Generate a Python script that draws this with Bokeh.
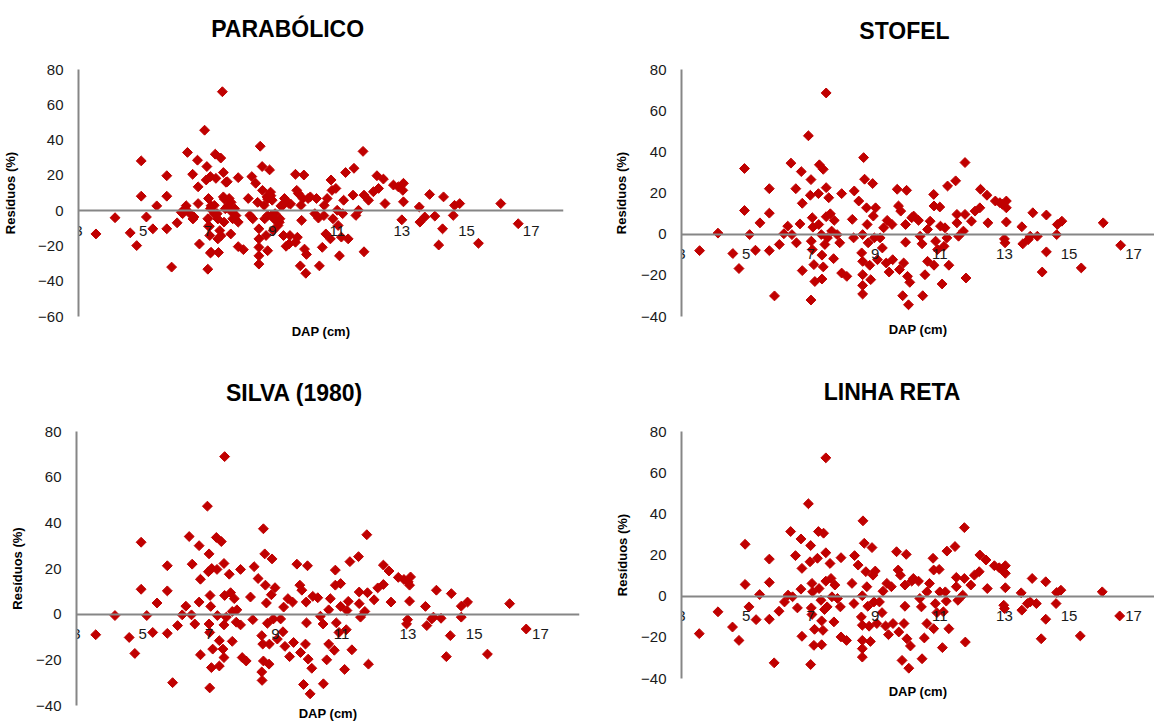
import math
from bokeh.plotting import figure
from bokeh.layouts import row, column
from bokeh.models import Range1d, FixedTicker, LinearAxis
from bokeh.core.properties import value
from bokeh.embed import file_html
from bokeh.resources import INLINE

# ---------------- data (DAP cm, residual %) ----------------
titles = ["PARABÓLICO", "STOFEL", "SILVA (1980)", "LINHA RETA"]
x_ticks = [3, 5, 7, 9, 11, 13, 15, 17]
y_ticks_p1 = [-60, -40, -20, 0, 20, 40, 60, 80]
y_ticks_other = [-40, -20, 0, 20, 40, 60, 80]

parabolico_pts = [
    (3.54, -13.2), (4.13, -4), (4.6, -12.6), (4.8, -19.8), (4.94, 28.2), (4.94, 8.2), (5.1, -3.6),
    (5.3, -10.3), (5.42, 2.7), (5.73, 19.8), (5.73, 8.2), (5.73, -10.3), (5.88, -32), (6.05, -6.9),
    (6.22, -1.7), (6.3, 1.1), (6.37, 33), (6.45, -1.7), (6.53, 20.6), (6.57, -3.6), (6.68, 28.6),
    (6.7, 13.5), (6.7, 4), (6.74, -18.9), (6.9, 45.6), (6.97, 25), (6.95, 17.4), (7.02, 6.9),
    (7.0, -4.6), (7.02, -8.8), (7.0, -33.2), (7.06, -14.1), (7.08, 19.3), (7.08, 1.1), (7.08, -24),
    (7.2, 3), (7.23, 32), (7.25, 18.3), (7.29, -1.7), (7.31, -16), (7.33, -23.7), (7.37, -11.3),
    (7.4, 29.8), (7.45, 67.4), (7.48, 21.6), (7.48, 7.8), (7.5, -6.5), (7.54, 1.1), (7.6, 16.4),
    (7.66, 6.9), (7.71, -13.2), (7.74, -0.8), (7.77, -4.6), (7.83, 1.1), (7.94, 18.7), (7.94, -6.5),
    (7.94, -20.4), (8.1, -22.1), (8.25, 6.9), (8.3, -2.7), (8.36, 19.3), (8.39, -4.6), (8.48, 15.5),
    (8.58, -10.3), (8.58, -16), (8.58, -20.8), (8.58, -25.6), (8.58, -30.3), (8.62, 36.5), (8.68, 25),
    (8.69, 11.5), (8.74, 3), (8.76, -4.6), (8.8, -14.1), (8.83, 7.8), (8.85, -22.7), (8.91, 23.1),
    (8.94, 10.5), (8.97, -2.7), (8.99, 5.9), (9.02, -11.3), (9.08, -1.7), (9.17, -8.4), (9.23, -4.6),
    (9.26, 2.7), (9.34, -14.1), (9.37, 6.9), (9.42, -20.2), (9.51, 4), (9.54, -14.1), (9.71, 20.6),
    (9.71, -17.9), (9.75, 11.5), (9.8, 9.7), (9.86, -31.3), (9.88, 3), (9.9, -5.5), (9.94, 6.9),
    (9.97, 20.2), (9.99, -21.8), (10.03, -35.5), (10.05, -24.8), (10.1, 6.9), (10.17, 7.8),
    (10.31, -1.7), (10.36, 6.9), (10.42, -4.2), (10.45, -31.3), (10.54, -20.8), (10.6, 3),
    (10.65, -13.2), (10.69, 6.9), (10.79, -16), (10.81, 17.4), (10.84, 11.5), (10.87, -4.6),
    (10.96, 12.6), (11.0, 0.2), (11.03, -8.4), (11.07, -25.6), (11.13, -15), (11.17, -1.7),
    (11.2, 5.9), (11.26, 21.6), (11.34, -16), (11.49, 8.8), (11.52, 24), (11.58, -2.7), (11.66, 0.2),
    (11.8, 33.6), (11.83, -23.3), (11.83, 8.8), (11.97, 5.9), (12.12, 10.7), (12.23, 19.8),
    (12.28, 12.6), (12.43, 17.9), (12.48, 4), (12.74, 14.5), (12.89, 13.5), (13.0, -5.2),
    (13.03, 11.5), (13.05, 15.5), (13.05, 5), (13.54, 2.1), (13.56, -6.5), (13.71, -3.6),
    (13.86, 9.2), (14.02, -3.1), (14.14, -19.5), (14.26, -10.3), (14.29, 7.8), (14.59, -2.7),
    (14.63, 3), (14.79, 4), (15.37, -18.5), (16.06, 4), (16.6, -7.4),
    (6.18, -0.9), (6.33, 2.8), (6.54, -4.7), (7.1, 2.8), (7.2, -1.9), (7.31, -4.7), (7.05, -8.9),
    (7.41, -14.2), (7.1, -23.6), (7.51, 6.6), (7.62, 2.8), (7.72, 4.7), (7.87, -2.8), (7.56, 16.1),
    (8.54, 4.7), (8.85, 6.6), (8.95, 8.5), (8.85, -2.8), (9.05, -4.7), (9.21, -6.6), (9.31, 2.8),
    (9.56, 3.8), (9.51, -18.9), (9.77, -15.1), (10.59, -2.8),
]

stofel_pts = [
    (3.56, -8), (4.13, 0.5), (4.59, -9.4), (4.78, -16.7), (4.95, 31.9), (4.95, 11.5), (5.11, -0.2),
    (5.29, -7.8), (5.43, 5.5), (5.72, 22.1), (5.72, 10.2), (5.72, -8), (5.88, -30), (6.03, -5),
    (6.17, 0.2), (6.29, 3.9), (6.39, 34.5), (6.42, -0.2), (6.54, 22.1), (6.56, -4.2), (6.67, 5),
    (6.71, 30.4), (6.74, 15), (6.74, -17.7), (6.93, 47.8), (7.01, 26.5), (6.99, 18.9), (7.05, 8),
    (7.02, -3.4), (7.05, -7.5), (7.01, -32), (7.07, 3.4), (7.1, -14.8), (7.13, -23), (7.24, 19.7),
    (7.25, 4.7), (7.27, 33.7), (7.33, -0.2), (7.35, -10.2), (7.35, -21.8), (7.39, 31.5), (7.39, -15.9),
    (7.44, -5), (7.48, 68.6), (7.48, 22.6), (7.48, 8.5), (7.52, -1.8), (7.56, 17.7), (7.61, 9.9),
    (7.65, 1.5), (7.71, -11.9), (7.73, 6.7), (7.82, -0.2), (7.9, -4.2), (7.96, 19.7), (7.96, -18.9),
    (8.12, -20.5), (8.29, 7.2), (8.33, -1.8), (8.35, 21), (8.49, 16.1), (8.58, -9.1), (8.61, -0.2),
    (8.61, -13.2), (8.61, -19.7), (8.61, -24.9), (8.61, -29.1), (8.64, 37.2), (8.67, 26.7),
    (8.73, 12.8), (8.75, 4.7), (8.78, -4.2), (8.83, -15.1), (8.86, -22.1), (8.92, 24.6), (8.94, 8.8),
    (8.97, -1.8), (9.01, 12.8), (9.07, -12.4), (9.15, -1.8), (9.22, -6.7), (9.26, 3.1), (9.34, -14),
    (9.37, 6.7), (9.43, -18.4), (9.52, 4.7), (9.54, -12.4), (9.68, 21.8), (9.72, 13.7), (9.75, -17.2),
    (9.79, 11.2), (9.85, -29.9), (9.88, -14), (9.94, 4.7), (9.94, -3.9), (9.97, 21.3), (10.0, -20.5),
    (10.03, -34.3), (10.07, -23.4), (10.13, 8), (10.19, 8.8), (10.34, 6.7), (10.39, -1), (10.45, -4.7),
    (10.47, -29.9), (10.54, -19.7), (10.62, 2.3), (10.62, -13.2), (10.7, 6.3), (10.81, 19.3),
    (10.82, 13.7), (10.82, -15.1), (10.87, -3.4), (10.93, -7.5), (11.0, 13.2), (11.02, 3.9),
    (11.07, -24.2), (11.13, -5.9), (11.16, 3.1), (11.22, -1.8), (11.24, 23.4), (11.28, -15.1),
    (11.49, 25.9), (11.53, 5.5), (11.53, 9.6), (11.58, -1), (11.73, 1.5), (11.78, 34.8), (11.78, 9.6),
    (11.81, -21.3), (11.98, 6.3), (12.09, 11.2), (12.24, 12.8), (12.26, 21.8), (12.46, 18.9),
    (12.49, 5.5), (12.72, 16.1), (12.86, 15.3), (12.94, 14.5), (13.0, -2.3), (13.02, -4.2),
    (13.06, 16.1), (13.06, 12.8), (13.06, 5.9), (13.54, 3.6), (13.57, -4.7), (13.74, -2.6),
    (13.8, -1), (13.88, 10.4), (14.02, -1), (14.17, -18.4), (14.3, 9.3), (14.3, -8.6), (14.62, -0.2),
    (14.64, 4.7), (14.78, 6.3), (15.38, -16.4), (16.06, 5.5), (16.6, -5.4),
]

silva_pts = [
    (3.58, -9), (4.16, -0.6), (4.59, -10.2), (4.76, -17.2), (4.95, 31.5), (4.95, 10.9), (5.12, -0.6),
    (5.3, -8), (5.43, 4.9), (5.74, 21.2), (5.74, 10.2), (5.74, -8.4), (5.9, -30), (6.05, -5),
    (6.19, -0.3), (6.3, 3.5), (6.4, 34), (6.47, -0.3), (6.49, 21.9), (6.57, -4.3), (6.7, 5.3),
    (6.7, 30), (6.74, 15.3), (6.74, -17.8), (6.95, 47.3), (7.0, 26.4), (6.98, 18.6), (7.03, 8.2),
    (7.0, -4.3), (7.02, -8), (7.02, -32.3), (7.05, 3.4), (7.11, -15.3), (7.07, -23.4), (7.08, 20),
    (7.22, 33.6), (7.24, 19.6), (7.25, -0.6), (7.31, -11.6), (7.31, -22.7), (7.37, 31.8),
    (7.42, -15.3), (7.45, -19), (7.45, -4.7), (7.47, 69), (7.45, 22.2), (7.47, 8.2), (7.52, -1.3),
    (7.61, 17.5), (7.65, 9.4), (7.7, 1.2), (7.7, -11.9), (7.76, 6.8), (7.82, -3.5), (7.84, 1.9),
    (7.95, -4.7), (7.95, 19.6), (8.0, -19), (8.12, -20.5), (8.25, 7.5), (8.32, -2.4), (8.36, 20.8),
    (8.48, 15.6), (8.59, -9.4), (8.59, -25.3), (8.6, -29), (8.62, -13.1), (8.64, 37.4), (8.68, 26.4),
    (8.64, -20.5), (8.7, 12.7), (8.73, 4.9), (8.76, -4), (8.81, -21.9), (8.82, -13.1), (8.9, 24.2),
    (8.88, 8.5), (8.94, -2.1), (8.99, 11.6), (9.06, -10.9), (9.16, -2.1), (9.23, -7.7), (9.25, 3.1),
    (9.29, -14.1), (9.38, 6.8), (9.43, -18.6), (9.52, 5.3), (9.55, -12.4), (9.65, 21.9), (9.74, 12.7),
    (9.76, -16.8), (9.8, 10.5), (9.85, -30.8), (9.91, -13.1), (9.93, 5.3), (9.94, -3.8), (9.97, 21.2),
    (9.99, -19.7), (10.05, -34.9), (10.1, -23.7), (10.13, 7.8), (10.28, 7.2), (10.36, -0.9),
    (10.44, -4.3), (10.45, -30.5), (10.55, -20), (10.61, 1.9), (10.61, -13.1), (10.66, 6.8),
    (10.81, 19.3), (10.81, 12.7), (10.78, -15.8), (10.84, -3.8), (10.92, -8), (10.97, 13.4),
    (10.97, 3.4), (11.09, -24.2), (11.14, -6.8), (11.16, 1.6), (11.2, 5.6), (11.25, 23),
    (11.31, -15.6), (11.51, 25.2), (11.53, 4.6), (11.53, 9.7), (11.57, -1.3), (11.7, 1.2),
    (11.76, 34.8), (11.78, 9.4), (11.81, -21.9), (11.98, 6.3), (12.09, 11.5), (12.26, 13),
    (12.26, 21.5), (12.43, 18.9), (12.49, 5.3), (12.71, 16.1), (12.88, 15.2), (12.96, -4.3),
    (12.99, -2.4), (13.01, 14.1), (13.05, 12.7), (13.08, 16.3), (13.05, 5.7), (13.53, 3.4),
    (13.57, -5), (13.72, -2.1), (13.77, -1.3), (13.86, 10.5), (14.0, -1.8), (14.16, -18.6),
    (14.31, 9), (14.28, -9.4), (14.61, -1.3), (14.61, 3.5), (14.8, 5.3), (15.4, -17.5),
    (16.07, 4.6), (16.57, -6.5),
]

linha_reta_pts = [
    (3.55, -18.2), (4.13, -7.6), (4.58, -15), (4.78, -21.5), (4.97, 25.2), (4.97, 5.7), (5.09, -5.2),
    (5.31, -11.4), (5.42, 0.8), (5.72, 18), (5.72, 6.7), (5.72, -11.2), (5.87, -32.4), (6.02, -7.3),
    (6.19, -2.8), (6.3, 0.5), (6.38, 31.4), (6.44, -0.3), (6.53, 19.7), (6.59, -5.7), (6.7, 27.8),
    (6.7, 3.4), (6.73, 13.5), (6.73, -19.5), (6.93, 44.9), (7.0, 24.6), (6.98, 16.7), (7.04, 6.2),
    (7.02, -5.7), (7.04, -8.9), (7.0, -33.2), (7.06, 2.1), (7.12, -16.1), (7.1, -23.9), (7.21, 18.4),
    (7.24, 31.4), (7.26, 3.7), (7.32, -2), (7.34, -12), (7.34, -23.6), (7.4, 30.6), (7.38, -16.6),
    (7.43, -6.5), (7.47, 67.2), (7.47, 21.1), (7.47, 7.3), (7.51, -5.2), (7.6, 15.9), (7.63, 8.6),
    (7.66, -0.3), (7.72, -12.5), (7.75, 5.4), (7.83, -1.1), (7.92, -5.2), (7.94, 18.7), (7.94, -19.8),
    (8.11, -21.5), (8.28, 6.2), (8.34, -3.6), (8.36, 19.7), (8.47, 15.1), (8.57, -10.1), (8.6, 0.2),
    (8.6, -14.1), (8.6, -21.5), (8.6, -25.5), (8.6, -29.6), (8.62, 36.6), (8.66, 25.7), (8.71, 11.9),
    (8.74, 4.6), (8.77, -4.9), (8.81, -14.6), (8.85, -22), (8.9, 23.6), (8.93, 10.2), (8.96, -2.8),
    (9.0, 12.2), (9.05, -13.3), (9.13, -2.8), (9.21, -8), (9.24, 2.4), (9.32, -14.5), (9.36, 6.2),
    (9.41, -18.7), (9.5, 4.6), (9.55, -13.3), (9.66, 21.6), (9.71, 12.7), (9.73, -17.4), (9.78, 10.2),
    (9.83, -31.2), (9.89, -13.3), (9.92, 5.4), (9.92, -4.9), (9.96, 20.3), (9.98, -20.7), (10.04, -35),
    (10.09, -24.2), (10.13, 7.3), (10.18, 8.6), (10.34, 7.3), (10.38, -1.1), (10.43, -5.2),
    (10.45, -30.4), (10.52, -20.3), (10.6, 2.1), (10.6, -13.3), (10.68, 6.2), (10.79, 18.4),
    (10.81, 12.7), (10.81, -15.8), (10.86, -3.6), (10.91, -8), (10.98, 13), (11.0, 2.1),
    (11.08, -25), (11.11, -7.6), (11.17, 2.1), (11.2, -2.4), (11.22, 21.9), (11.28, -15.8),
    (11.47, 24.1), (11.51, 4.6), (11.51, 9.1), (11.56, -2), (11.71, 0.5), (11.76, 33.3), (11.76, 8.6),
    (11.79, -22.3), (11.96, 5.4), (12.07, 10.2), (12.22, 11.9), (12.24, 20), (12.43, 17.6),
    (12.47, 3.7), (12.69, 14.8), (12.84, 13.8), (12.92, 13), (12.98, -4.4), (13.0, -6),
    (13.03, 14.8), (13.03, 11.1), (13.03, 4.1), (13.52, 1.6), (13.54, -6.8), (13.71, -3.6),
    (13.8, -2.8), (13.86, 8.6), (13.99, -3.6), (14.14, -20.7), (14.28, 7), (14.28, -11.2),
    (14.6, -3.6), (14.62, 1.8), (14.75, 2.9), (15.35, -19.3), (16.03, 2.1), (16.57, -9.6),
]

# ---------------- styling ----------------
RED = "#C00000"
AXIS_GRAY = "#868686"
FONT = "Liberation Sans"
TEXT_COLOR = "#1a1a1a"


def title_fig(text, width, height, frame_w, cx, cy):
    """Strip holding a panel title. Its frame is aligned with the panel frame below,
    so cx is in px from the panel frame's left edge; cy in px from the strip bottom."""
    t = figure(width=width, height=height, output_backend="svg", toolbar_location=None,
               x_range=Range1d(0, frame_w), y_range=Range1d(0, height), min_border=0)
    t.axis.visible = False
    t.grid.visible = False
    t.outline_line_color = None
    t.text(x=[cx], y=[cy], text=[text], text_align="center", text_baseline="middle",
           text_font=value(FONT), text_font_size="23px", text_font_style="bold",
           text_color="black")
    return t


def make_panel(pts, y_lo, y_ticks, x_hi, width, height, left, right, top, bottom,
               ylab_standoff, xlab_standoff):
    p = figure(width=width, height=height, output_backend="svg", toolbar_location=None,
               x_range=Range1d(3, x_hi), y_range=Range1d(y_lo, 80),
               min_border_left=left, min_border_right=right,
               min_border_top=top, min_border_bottom=bottom)
    p.outline_line_color = None
    p.grid.visible = False

    xs = [a for a, b in pts]
    ys = [b for a, b in pts]
    p.scatter(xs, ys, marker="square", size=7, angle=math.pi / 4,
              fill_color=RED, line_color=RED)

    ya = p.yaxis[0]
    ya.ticker = FixedTicker(ticks=y_ticks)
    ya.axis_line_color = AXIS_GRAY
    ya.axis_line_width = 2
    ya.major_tick_line_color = None
    ya.minor_tick_line_color = None
    ya.major_tick_out = 0
    ya.major_tick_in = 0
    ya.major_label_standoff = 15
    ya.major_label_text_font = FONT
    ya.major_label_text_font_size = "15px"
    ya.major_label_text_color = TEXT_COLOR
    ya.axis_label = "Resíduos (%)"
    ya.axis_label_standoff = ylab_standoff
    ya.axis_label_text_font = FONT
    ya.axis_label_text_font_size = "13px"
    ya.axis_label_text_font_style = "bold"
    ya.axis_label_text_color = "black"

    # x axis crossing at y = 0 (Excel style)
    xa = p.xaxis[0]
    xa.fixed_location = 0
    xa.ticker = FixedTicker(ticks=x_ticks)
    xa.axis_line_color = AXIS_GRAY
    xa.axis_line_width = 2
    xa.major_tick_line_color = None
    xa.minor_tick_line_color = None
    xa.major_tick_out = 0
    xa.major_tick_in = 0
    xa.major_label_standoff = 15
    xa.major_label_text_font = FONT
    xa.major_label_text_font_size = "15px"
    xa.major_label_text_color = TEXT_COLOR

    # separate axis below the frame that only carries the title "DAP (cm)"
    lab = LinearAxis(ticker=FixedTicker(ticks=[]), axis_label="DAP (cm)")
    lab.axis_line_color = None
    lab.major_tick_line_color = None
    lab.minor_tick_line_color = None
    lab.major_tick_out = 0
    lab.major_tick_in = 0
    lab.major_label_standoff = 0
    lab.major_label_text_font_size = "0px"
    lab.axis_label_standoff = xlab_standoff
    lab.axis_label_text_font = FONT
    lab.axis_label_text_font_size = "13px"
    lab.axis_label_text_font_style = "bold"
    lab.axis_label_text_color = "black"
    p.add_layout(lab, "below")
    return p


LW, RW = 580, 574           # widths of left / right columns
TOP_T, BOT_T = 50, 50       # heights of the title strips
FW1, FW2, FW3, FW4 = 487, 473, 503, 473   # frame widths

# Top-left: frame x 76..563, y 69..316
t1 = title_fig(titles[0], LW, TOP_T, FW1, 286 - 76, TOP_T - 28)
p1 = make_panel(parabolico_pts, -60, y_ticks_p1, 18.0,
                width=LW, height=310, left=76, right=LW - 76 - FW1, top=19, bottom=44,
                ylab_standoff=17, xlab_standoff=7)
# Top-right: frame x 681..1154, y 69..316
t2 = title_fig(titles[1], RW, TOP_T, FW2, 904 - 681, TOP_T - 30)
p2 = make_panel(stofel_pts, -40, y_ticks_other, 3 + FW2 / 32.29,
                width=RW, height=310, left=101, right=RW - 101 - FW2, top=19, bottom=44,
                ylab_standoff=9, xlab_standoff=5)
# Bottom-left: frame x 76..579, y 431..705
t3 = title_fig(titles[2], LW, BOT_T, FW3, 294 - 76, 410 - 392)
p3 = make_panel(silva_pts, -40, y_ticks_other, 3 + FW3 / 33.14,
                width=LW, height=316, left=76, right=LW - 76 - FW3, top=21, bottom=21,
                ylab_standoff=8, xlab_standoff=0)
# Bottom-right: frame x 681..1154, y 431..678
t4 = title_fig(titles[3], RW, BOT_T, FW4, 892 - 681, 410 - 391)
p4 = make_panel(linha_reta_pts, -40, y_ticks_other, 3 + FW4 / 32.29,
                width=RW, height=316, left=101, right=RW - 101 - FW4, top=21, bottom=48,
                ylab_standoff=8, xlab_standoff=5)

layout = column(
    row(column(t1, p1, spacing=0), column(t2, p2, spacing=0), spacing=0),
    row(column(t3, p3, spacing=0), column(t4, p4, spacing=0), spacing=0),
    spacing=0,
)

with open("out.html", "w") as f:
    f.write(file_html(layout, INLINE))
